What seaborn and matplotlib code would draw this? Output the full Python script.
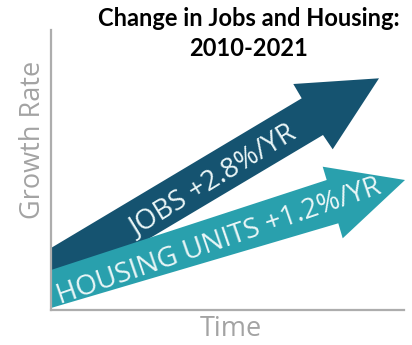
import matplotlib
matplotlib.use("Agg")
import matplotlib.pyplot as plt
from matplotlib.patches import Polygon
import seaborn as sns

# Growth figures shown on the arrows
series = ["JOBS", "HOUSING UNITS"]
rates = [2.8, 1.2]
labels = [f"{s} +{r}%/YR" for s, r in zip(series, rates)]
colors = ["#155370", "#29a0ad"]

title_lines = ["Change in Jobs and Housing:", "2010-2021"]
x_label = "Time"
y_label = "Growth Rate"

# Arrow outlines in data units (x = time, y = growth), listed as
# tail-top, shaft-top at head, head back corner, tip, head back corner,
# shaft-bottom at head, tail-bottom
jobs_x = [0, 250.7, 242.3, 328.0, 281.7, 272.0, 0]
jobs_y = [62, 211.7, 226.0, 231.7, 160.7, 175.0, 13]
housing_x = [0, 275.7, 271.7, 354.0, 291.7, 287.3, 0]
housing_y = [40, 130.0, 143.3, 130.0, 71.7, 86.7, 2]

label_x = [161.5, 168.0]
label_y = [128.5, 68.3]
label_angle = [31.5, 19.0]

sns.set_theme(style="white")
plt.rcParams["font.family"] = ["Open Sans", "DejaVu Sans"]

fig = plt.figure(figsize=(4.12, 3.45), dpi=100)
ax = fig.add_axes([51 / 412, 1 - 310 / 345, 353 / 412, 280 / 345])
ax.set_xlim(0, 353)
ax.set_ylim(0, 280)
ax.set_xticks([])
ax.set_yticks([])
sns.despine(ax=ax)
for side in ("left", "bottom"):
    ax.spines[side].set_color("#adadad")
    ax.spines[side].set_linewidth(1.6)

outlines = [(jobs_x, jobs_y), (housing_x, housing_y)]
for (xs, ys), c in zip(outlines, colors):
    ax.add_patch(Polygon(list(zip(xs, ys)), closed=True, facecolor=c,
                         edgecolor="none", zorder=2, clip_on=False))

for lab, lx, ly, ang in zip(labels, label_x, label_y, label_angle):
    ax.text(lx, ly, lab, rotation=ang, rotation_mode="anchor",
            ha="center", va="center", fontsize=20, color="#eaf6f7",
            zorder=3)

ax.text(-17.5 / 353, 170 / 280, y_label, transform=ax.transAxes,
        rotation=90, ha="center", va="center", fontsize=19.5,
        color="#a3a3a3")
ax.text(180 / 353, -19.5 / 280, x_label, transform=ax.transAxes,
        ha="center", va="center", fontsize=19.5, color="#a3a3a3")

for line, yp in zip(title_lines, [19, 48]):
    fig.text(249 / 412, 1 - yp / 345, line, ha="center", va="center",
             fontsize=17, fontweight="bold", color="black",
             family=["Lato", "DejaVu Sans"])

fig.savefig("out.png", dpi=100)
